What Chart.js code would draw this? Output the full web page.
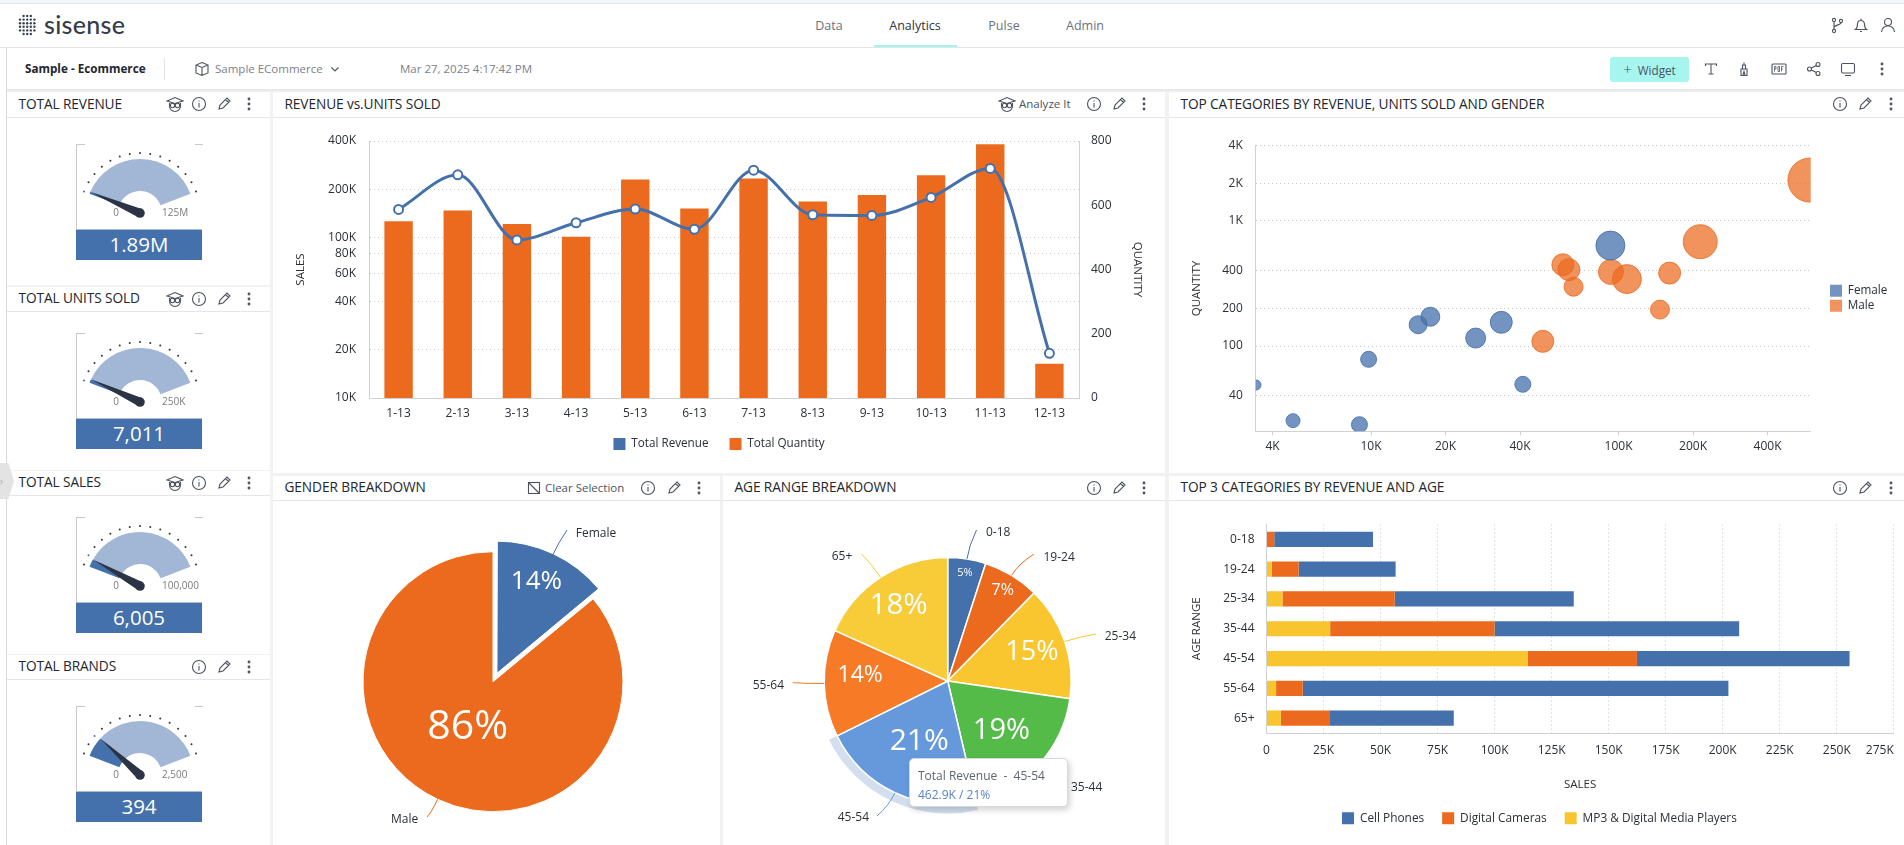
<!DOCTYPE html>
<html>
<head>
<meta charset="utf-8">
<title>Sample - Ecommerce</title>
<script src="https://cdn.jsdelivr.net/npm/chart.js@4/dist/chart.umd.js"></script>
<style>
html, body { margin: 0; height: 100%; overflow: hidden; background: #f2f2f2; font-family: "Open Sans", sans-serif; color: #22262e; }
#page { position: absolute; left: 0; top: 0; width: 1904px; height: 845px; overflow: hidden; }
.abs { position: absolute; white-space: nowrap; }
.panel { position: absolute; background: #fff; overflow: hidden; }
.panel canvas { position: absolute; }
.head { position: absolute; left: 0; right: 0; top: 0; border-bottom: 1px solid #e6e6e6; background: #fff; }
.title { position: absolute; left: 11.5px; font-size: 13.7px; color: #22262e; white-space: nowrap; transform: translateY(-50%); letter-spacing: -.1px; }
.ico { position: absolute; width: 18px; height: 18px; fill: none; stroke: #4c5360; stroke-width: 1.1; transform: translate(-50%, -50%); }
.small { font-size: 11.5px; color: #4c5360; }
.nav { font-size: 12.5px; color: #6a717d; transform: translate(-50%, -50%); }
.gaugeBox { position: absolute; width: 127px; border-left: 1px solid #c8c8c8; box-sizing: border-box; }
.gaugeBox:before, .gaugeBox:after { content: ""; position: absolute; top: 0; width: 8px; height: 1px; background: #c8c8c8; }
.gaugeBox:before { left: 0; } .gaugeBox:after { right: 0; }
.gaugeValue { position: absolute; width: 126px; height: 31px; background: #4470ab; border-top: 1px solid #a9bcd8; box-sizing: border-box; color: #fff; font-size: 20.5px; line-height: 29px; text-align: center; }
#tip { position: absolute; left: 909px; top: 758px; width: 159px; height: 49px; box-sizing: border-box; background: #fff; border: 1px solid #d5d8dd; border-radius: 5px; box-shadow: 2px 3px 6px rgba(0,0,0,.18); padding: 7px 8px; font-size: 12px; line-height: 19px; color: #5d6470; white-space: pre; }
#tip b { font-weight: 400; color: #5a83c8; display: block; }
</style>
</head>
<body>
<div id="page"></div>
<div id="tip" style="display:none"></div>
<script>
console.log("Script loaded!");

// Values
const months = ["1-13", "2-13", "3-13", "4-13", "5-13", "6-13", "7-13", "8-13", "9-13", "10-13", "11-13", "12-13"];
const totalRevenue = [149800, 246000, 96700, 123700, 150500, 112700, 263000, 138800, 137400, 178000, 270000, 19000];
const totalQuantity = [550, 584, 542, 502, 680, 590, 683, 612, 632, 693, 790, 107];
const revenueTicks = [10000, 20000, 40000, 60000, 80000, 100000, 200000, 400000];
const quantityTicks = [0, 200, 400, 600, 800];

const femaleRevenue = [3430, 4840, 8980, 9780, 15500, 17360, 26470, 33590, 41040, 92700];
const femaleUnits = [48.8, 25.3, 23.5, 78.3, 148, 171.5, 115.8, 154.7, 49.4, 636];
const femaleBubble = [5, 7, 8, 8, 9, 9.5, 10, 11, 8, 14.5];
const maleRevenue = [49440, 59560, 63000, 65800, 93170, 108100, 147000, 160800, 213800, 593000];
const maleUnits = [109, 447, 408, 298, 391, 343, 195.6, 383, 683, 2124];
const maleBubble = [11, 11, 11, 9.5, 12.5, 14.5, 9.5, 11, 17, 22];
const scatterXTicks = [4000, 10000, 20000, 40000, 100000, 200000, 400000];
const scatterYTicks = [40, 100, 200, 400, 1000, 2000, 4000];

const genderLabels = ["Female", "Male"];
const genderValues = [14, 86];

const ageLabels = ["0-18", "19-24", "25-34", "35-44", "45-54", "55-64", "65+"];
const ageValues = [108, 160, 324, 413, 462.9, 304, 397];

const cellPhones = [43.3, 42.5, 78.5, 107.2, 93.2, 186.6, 54.6];
const digitalCameras = [3.4, 11.8, 49.2, 72.1, 47.8, 11.7, 21.2];
const mediaPlayers = [0, 2.3, 7.0, 27.9, 114.6, 4.2, 6.3];
const salesTicks = [0, 25, 50, 75, 100, 125, 150, 175, 200, 225, 250, 275];

const gaugeTitles = ["TOTAL REVENUE", "TOTAL UNITS SOLD", "TOTAL SALES", "TOTAL BRANDS"];
const gaugeValues = [1890000, 7011, 6005, 394];
const gaugeMax = [125000000, 250000, 100000, 2500];
const gaugeValueText = ["1.89M", "7,011", "6,005", "394"];
const gaugeMaxText = ["125M", "250K", "100,000", "2,500"];

const BLUE = "#4470ab", ORANGE = "#ec6a1e", YELLOW = "#f8c52e";
const GRID = "rgba(0,0,0,.22)", AXIS = "#cfd1d4", TEXT = "#2b2f36";
Chart.defaults.font.family = '"Open Sans", sans-serif';
Chart.defaults.font.size = 12;
Chart.defaults.color = TEXT;
Chart.defaults.animation = false;
Chart.defaults.events = [];
Chart.defaults.plugins.tooltip.enabled = false;

function fmtK(v) { return v >= 1000 ? (v / 1000) + "K" : String(v); }
function fixedTicks(list) { return function(scale) { scale.ticks = list.map(function(v) { return { value: v }; }); }; }
function noStroke(chart) {
    return Chart.defaults.plugins.legend.labels.generateLabels(chart).map(function(i) { i.lineWidth = 0; return i; });
}

// Page furniture
const page = document.getElementById("page");
function el(cls, style, html, parent) {
    const d = document.createElement("div");
    d.className = cls;
    d.style.cssText = style;
    if (html) d.innerHTML = html;
    (parent || page).appendChild(d);
    return d;
}
const ICONS = {
    info: '<circle cx="9" cy="9" r="6.5"/><path d="M9 8v4.5M9 5.5v1"/>',
    pencil: '<path d="M4 14l1-4 7-7 3 3-7 7-4 1zM10.5 4.5l3 3"/>',
    dots: '<circle cx="9" cy="4" r=".9" fill="#4c5360"/><circle cx="9" cy="9" r=".9" fill="#4c5360"/><circle cx="9" cy="14" r=".9" fill="#4c5360"/>',
    owl: '<path d="M1 6l8-3.500 8 3.500-8 2.500zM3.500 8v3a5.500 5.500 0 0 0 11 0V8"/><circle cx="6.500" cy="10.500" r="2.200"/><circle cx="11.500" cy="10.500" r="2.200"/>',
    branch: '<circle cx="6" cy="4" r="1.6"/><circle cx="6" cy="15" r="1.6"/><circle cx="13" cy="5" r="1.6"/><path d="M6 5.6v7.8M13 6.6c0 3-7 2-7 5"/>',
    bell: '<path d="M3.5 13.5h11c-1.5-1-2-2.5-2-5.5a3.5 3.5 0 0 0-7 0c0 3-.5 4.500-2 5.500zM8 15.500h2M9 2.500v2"/>',
    user: '<circle cx="9" cy="6" r="3.500"/><path d="M2.500 16c.5-4 3-6 6.500-6s6 2 6.500 6"/>',
    cube: '<path d="M9 2.500l6 2.500v8l-6 2.500-6-2.500v-8zM3 5l6 2.500 6-2.500M9 7.500v8"/>',
    chevron: '<path d="M5.500 7.500l3.500 3.500 3.500-3.500"/>',
    text: '<path d="M3.500 6V4h11v2M9 4v10M6.500 14h5"/>',
    brush: '<path d="M6 9h6v6.500H6zM7.500 9V5h3v4M9 2.500V5M8 15l1-3.500 1 3.500"/>',
    pdf: '<rect x="2" y="4" width="14" height="10" rx="1"/><path d="M4.500 11.500v-5h1.500v2.500h-1.500M8 6.500v5h1.500V6.500zM11.500 11.500v-5h2M11.500 9h1.500" stroke-width=".8"/>',
    share: '<circle cx="4.500" cy="9" r="2"/><circle cx="13" cy="4.500" r="2"/><circle cx="13" cy="13.500" r="2"/><path d="M6.300 8l5-2.600M6.300 10l5 2.600"/>',
    screen: '<rect x="2.500" y="3.500" width="13" height="9.500" rx="1.500"/><path d="M6 15.500h6"/>',
    clear: '<rect x="3.500" y="3.500" width="11" height="11"/><path d="M3.500 3.500l11 11"/>'
};
function icon(name, x, y, parent) {
    el("", "", '<svg class="ico" viewBox="0 0 18 18" style="left:' + x + 'px;top:' + y + 'px">' + ICONS[name] + "</svg>", parent);
}

// Top bars
el("abs", "left:0;top:0;width:1904px;height:48px;background:#fff;border-bottom:1px solid #e6e8ea;box-sizing:border-box");
el("abs", "left:0;top:0;width:1904px;height:4px;background:#f3f7f9;border-bottom:1px solid #dfe6ea;box-sizing:border-box");
el("abs", "left:0;top:48px;width:1904px;height:41px;background:#fff;box-shadow:0 1px 3px rgba(0,0,0,.08)");
el("abs", "left:0;top:48px;width:6px;height:797px;background:#fff;border-right:1px solid #d9d9d9");
const logo = [];
for (let r = 0; r < 6; r++) for (let c = 0; c < 5; c++) {
    if ((r === 0 || r === 5) && (c === 0 || c === 4)) continue;
    logo.push('<circle cx="' + (2 + c * 3.6) + '" cy="' + (2 + r * 3.6) + '" r="1.200" fill="#3a4150"/>');
}
el("abs", "left:18px;top:14px", '<svg width="18" height="22">' + logo.join("") + "</svg>");
el("abs", "left:44px;top:9px;font:500 25px Lato,sans-serif;color:#353c4a;line-height:30px;letter-spacing:.3px", "sisense");
[["Data", 829], ["Analytics", 915], ["Pulse", 1004], ["Admin", 1085]].forEach(function(n) {
    el("abs nav", "left:" + n[1] + "px;top:25px;" + (n[0] === "Analytics" ? "color:#2f3540" : ""), n[0]);
});
el("abs", "left:874px;top:45px;width:83px;height:2px;background:#a5f3ee");
icon("branch", 1837, 25); icon("bell", 1861, 25); icon("user", 1888, 25);
el("abs", "left:25px;top:60px;font-size:11.7px;font-weight:700;color:#22262e;line-height:16px", "Sample - Ecommerce");
el("abs", "left:164px;top:58px;width:1px;height:22px;background:#e4e4e4");
icon("cube", 202, 69);
el("abs", "left:215px;top:60px;font-size:11.5px;color:#7b818b;line-height:18px", "Sample ECommerce");
icon("chevron", 335, 69);
el("abs", "left:400px;top:60px;font-size:11.5px;color:#7b818b;line-height:18px", "Mar 27, 2025 4:17:42 PM");
el("abs", "left:1610px;top:57px;width:79px;height:25px;background:#a6f5ef;border-radius:3px;font-size:11.7px;color:#4c5360;line-height:25px;text-align:center", "<span style='font-size:15px;font-weight:300'>+</span>&nbsp; Widget");
icon("text", 1711, 69); icon("brush", 1744, 69); icon("pdf", 1779, 69); icon("share", 1814, 69); icon("screen", 1848, 69); icon("dots", 1882, 69);
el("abs", "left:0;top:463px;width:14px;height:36px;background:#e3e3e3;clip-path:polygon(0 0,60% 0,100% 50%,60% 100%,0 100%);color:#aaa;font-size:10px;line-height:36px;z-index:3", "&rsaquo;");

function panel(x, y, w, h, headH, title) {
    const p = el("panel", "left:" + x + "px;top:" + y + "px;width:" + w + "px;height:" + h + "px");
    el("head", "height:" + (headH - 1) + "px", "", p);
    el("title", "top:" + (headH / 2 - 2.5) + "px", title, p);
    return p;
}
function addCanvas(p, x, y, w, h) {
    const c = document.createElement("canvas");
    c.style.cssText = "left:0;top:0;width:" + w + "px;height:" + h + "px";
    c.width = w; c.height = h;
    const holder = document.createElement("div");
    holder.style.cssText = "position:absolute;left:" + x + "px;top:" + y + "px;width:" + w + "px;height:" + h + "px";
    holder.appendChild(c);
    p.appendChild(holder);
    return c.getContext("2d");
}

// Gauges
const gaugeTop = [144, 333, 517, 706];
const gaugePanels = [[92, 193, 26], [287, 183, 25], [471, 183, 25], [655, 190, 25]];
const gaugePlugin = {
    id: "gaugeExtras",
    afterDatasetsDraw(chart, args, opts) {
        const ctx = chart.ctx;
        const arc = chart.getDatasetMeta(0).data[0];
        const cx = arc.x, cy = arc.y;
        const start = arc.startAngle, full = chart.getDatasetMeta(0).data[1].endAngle - start;
        const frac = gaugeValues[opts.i] / gaugeMax[opts.i];
        // tick dots
        for (let k = 0; k <= 14; k++) {
            const a = start + full * k / 14;
            ctx.beginPath();
            ctx.arc(cx + Math.cos(a) * 60, cy + Math.sin(a) * 60, 1, 0, 7);
            ctx.fillStyle = k === Math.round(frac * 14) ? BLUE : "#333";
            ctx.fill();
        }
        // needle
        const a = arc.endAngle, nx = -Math.sin(a), ny = Math.cos(a);
        ctx.beginPath();
        ctx.moveTo(cx + Math.cos(a) * 54, cy + Math.sin(a) * 54);
        ctx.lineTo(cx + nx * 4.5, cy + ny * 4.5);
        ctx.lineTo(cx - nx * 4.5, cy - ny * 4.5);
        ctx.closePath();
        ctx.fillStyle = "#2c3345";
        ctx.fill();
        ctx.beginPath();
        ctx.arc(cx, cy, 4.8, 0, 7);
        ctx.fill();
        // min and max
        ctx.font = '10px "Open Sans"';
        ctx.fillStyle = "#7b7b7b";
        ctx.textBaseline = "middle";
        ctx.textAlign = "center";
        ctx.fillText("0", cx - 24, cy);
        ctx.textAlign = "left";
        ctx.fillText(gaugeMaxText[opts.i], cx + 22, cy);
    }
};
gaugeTitles.forEach(function(t, i) {
    const g = gaugePanels[i];
    const p = panel(7, g[0], 263, g[1], g[2], t);
    if (i !== 3) icon("owl", 168, g[2] / 2 - 1, p);
    icon("info", 192, g[2] / 2 - 1, p);
    icon("pencil", 217, g[2] / 2 - 1, p);
    icon("dots", 242, g[2] / 2 - 1, p);
    el("gaugeBox", "left:76px;top:" + gaugeTop[i] + "px;height:85px");
    el("gaugeValue", "left:76px;top:" + (gaugeTop[i] + 85) + "px;z-index:2", gaugeValueText[i]);
    const ctx = addCanvas(page, 77, gaugeTop[i], 126, 85);
    ctx.canvas.parentNode.style.zIndex = 1;
    new Chart(ctx, {
        type: "doughnut",
        data: {
            labels: ["Value", "Rest"],
            datasets: [{
                data: [gaugeValues[i], gaugeMax[i] - gaugeValues[i]],
                backgroundColor: [BLUE, "#a2b7d5"],
                borderWidth: 0,
                radius: 54,
                cutout: "40.7%"
            }]
        },
        options: {
            responsive: false,
            rotation: -69,
            circumference: 138,
            layout: { padding: { bottom: 8.8 } },
            plugins: { legend: { display: false }, gaugeExtras: { i: i } }
        },
        plugins: [gaugePlugin]
    });
});

const pinLegend = {
    id: "pinLegend",
    afterLayout(chart, args, opts) {
        const l = chart.legend, dx = opts.left - l.left;
        l.left += dx; l.right += dx;
        l.top += opts.dy; l.bottom += opts.dy;
    }
};

// Revenue vs units sold
const revPanel = panel(273, 92, 892, 381, 26, "REVENUE vs.UNITS SOLD");
icon("owl", 734, 12, revPanel);
el("abs small", "left:746px;top:4px;line-height:16px", "Analyze It", revPanel);
icon("info", 821, 12, revPanel); icon("pencil", 846, 12, revPanel); icon("dots", 871, 12, revPanel);
new Chart(addCanvas(revPanel, 0, 27, 892, 354), {
    type: "bar",
    data: {
        labels: months,
        datasets: [
            {
                type: "line", label: "Total Revenue", data: totalRevenue, yAxisID: "y",
                borderColor: BLUE, backgroundColor: BLUE, borderWidth: 3, cubicInterpolationMode: "monotone",
                pointRadius: 4.5, pointBorderWidth: 2, pointBackgroundColor: "#fff", pointBorderColor: BLUE, order: 0
            },
            {
                label: "Total Quantity", data: totalQuantity, yAxisID: "y1",
                backgroundColor: ORANGE, categoryPercentage: 1, barPercentage: 0.48, order: 1
            }
        ]
    },
    options: {
        responsive: false,
        layout: { padding: { top: 22, bottom: 13 } },
        scales: {
            x: {
                grid: { display: false, drawTicks: false },
                border: { color: AXIS },
                ticks: { padding: 8, maxRotation: 0, autoSkip: false },
                afterFit(s) { s.height = 19; s.paddingLeft = 0; s.paddingRight = 0; }
            },
            y: {
                type: "logarithmic", position: "left", min: 10000, max: 400000,
                afterBuildTicks: fixedTicks(revenueTicks),
                ticks: { callback: fmtK, padding: 13, autoSkip: false },
                grid: { color: GRID, drawTicks: false },
                border: { color: AXIS, dash: [1, 3] },
                title: { display: true, text: "SALES", font: { size: 11.5 }, padding: { top: 21, bottom: 21 } },
                afterFit(s) { s.width = 96; s.paddingTop = 0; s.paddingBottom = 0; }
            },
            y1: {
                type: "linear", position: "right", min: 0, max: 800,
                afterBuildTicks: fixedTicks(quantityTicks),
                ticks: { padding: 12 },
                grid: { display: false, drawTicks: false },
                border: { color: AXIS },
                title: { display: true, text: "QUANTITY", font: { size: 11.5 }, padding: { top: 21, bottom: 21 } },
                afterFit(s) { s.width = 86; s.paddingTop = 0; s.paddingBottom = 0; }
            }
        },
        plugins: {
            legend: { position: "bottom", labels: { boxWidth: 12, boxHeight: 12, padding: 21, font: { size: 11.7 }, generateLabels: noStroke } }
        }
    }
});

// Top categories scatter
const catPanel = panel(1169, 92, 735, 381, 26, "TOP CATEGORIES BY REVENUE, UNITS SOLD AND GENDER");
icon("info", 671, 12, catPanel); icon("pencil", 696, 12, catPanel); icon("dots", 722, 12, catPanel);
function bubbles(xs, ys, rs) { return xs.map(function(x, i) { return { x: x, y: ys[i], r: rs[i] }; }); }
new Chart(addCanvas(catPanel, 0, 27, 735, 354), {
    type: "bubble",
    data: {
        datasets: [
            { label: "Female", data: bubbles(femaleRevenue, femaleUnits, femaleBubble), backgroundColor: "rgba(68,112,171,.75)", borderColor: "rgba(68,112,171,.85)", borderWidth: 1, clip: 0 },
            { label: "Male", data: bubbles(maleRevenue, maleUnits, maleBubble), backgroundColor: "rgba(236,106,30,.72)", borderColor: "rgba(236,106,30,.8)", borderWidth: 1, clip: 0 }
        ]
    },
    options: {
        responsive: false,
        layout: { padding: { top: 26.7, right: 23 } },
        scales: {
            x: {
                type: "logarithmic", min: 3424, max: 597600,
                afterBuildTicks: fixedTicks(scatterXTicks),
                ticks: { callback: fmtK, padding: 4, maxRotation: 0, autoSkip: false },
                grid: { drawOnChartArea: false, tickLength: 4, color: AXIS },
                border: { color: AXIS },
                afterFit(s) { s.height = 41.7; s.paddingLeft = 0; s.paddingRight = 0; }
            },
            y: {
                type: "logarithmic", min: 20.8, max: 4000,
                afterBuildTicks: fixedTicks(scatterYTicks),
                ticks: { callback: fmtK, padding: 13, autoSkip: false },
                grid: { color: GRID, drawTicks: false },
                border: { color: AXIS, dash: [1, 3] },
                title: { display: true, text: "QUANTITY", font: { size: 11.5 }, padding: { top: 20.5, bottom: 0 } },
                afterFit(s) { s.width = 86.8; s.paddingTop = 0; s.paddingBottom = 0; }
            }
        },
        plugins: {
            legend: { position: "right", labels: { boxWidth: 12, boxHeight: 12, padding: 3, font: { size: 11.7 }, generateLabels: noStroke } },
            pinLegend: { left: 658, dy: -11 }
        }
    },
    plugins: [pinLegend]
});

// Slice labels and connectors for the two pies
const pieLabels = {
    id: "pieLabels",
    afterDatasetsDraw(chart, args, opts) {
        const ctx = chart.ctx, meta = chart.getDatasetMeta(0), values = chart.data.datasets[0].data;
        const total = values.reduce(function(a, b) { return a + b; }, 0);
        meta.data.forEach(function(arc, i) {
            const mid = (arc.startAngle + arc.endAngle) / 2;
            const off = (arc.options.offset || 0) / 4;
            const cx = arc.x + Math.cos(mid) * off, cy = arc.y + Math.sin(mid) * off;
            const r = arc.outerRadius;
            // connector
            const c = opts.callouts[i];
            const sx = cx + Math.cos(mid) * r, sy = cy + Math.sin(mid) * r;
            ctx.beginPath();
            ctx.moveTo(sx, sy);
            ctx.quadraticCurveTo(sx + Math.cos(mid) * 14, sy + Math.sin(mid) * 14, c.ex, c.ey);
            ctx.strokeStyle = arc.options.backgroundColor;
            ctx.lineWidth = 1;
            ctx.stroke();
            ctx.font = '12px "Open Sans"';
            ctx.fillStyle = TEXT;
            ctx.textAlign = "left";
            ctx.textBaseline = "middle";
            ctx.fillText(chart.data.labels[i], c.tx, c.ty);
            // percent inside the slice
            const a = mid + (opts.turn ? opts.turn[i] : 0) * Math.PI / 180;
            ctx.font = opts.sizes[i] + 'px "Open Sans"';
            ctx.fillStyle = "#fff";
            ctx.textAlign = "center";
            ctx.fillText(Math.round(values[i] / total * 100) + "%", cx + Math.cos(a) * r * opts.dist[i], cy + Math.sin(a) * r * opts.dist[i]);
        });
    }
};

// Gender breakdown
const genPanel = panel(273, 476, 447, 369, 25, "GENDER BREAKDOWN");
icon("clear", 261, 12, genPanel);
el("abs small", "left:272px;top:4px;line-height:16px", "Clear Selection", genPanel);
icon("info", 375, 12, genPanel); icon("pencil", 401, 12, genPanel); icon("dots", 426, 12, genPanel);
// panel origin is (273,476), canvas starts at y 500
new Chart(addCanvas(genPanel, 0, 24, 447, 345), {
    type: "pie",
    data: {
        labels: genderLabels,
        datasets: [{ data: genderValues, backgroundColor: [BLUE, ORANGE], borderColor: "#fff", borderWidth: 1, offset: [37.2, 0], radius: 130 }]
    },
    options: {
        responsive: false,
        layout: { padding: { top: 18.4, right: 7 } },
        plugins: {
            legend: { display: false },
            pieLabels: {
                sizes: [26, 41],
                dist: [0.77, 0.40],
                turn: [-2, 4],
                callouts: [{ ex: 294, ey: 30, tx: 302.7, ty: 34 }, { ex: 154, ey: 317, tx: 118, ty: 320 }]
            }
        }
    },
    plugins: [pieLabels]
});

// Age range breakdown
const agePanel = panel(723, 476, 442, 369, 25, "AGE RANGE BREAKDOWN");
icon("info", 371, 12, agePanel); icon("pencil", 396, 12, agePanel); icon("dots", 421, 12, agePanel);
const ageHalo = {
    id: "ageHalo",
    beforeDatasetsDraw(chart) {
        const a = chart.getDatasetMeta(0).data[4], ctx = chart.ctx;
        ctx.beginPath();
        ctx.moveTo(a.x, a.y);
        ctx.arc(a.x, a.y, a.outerRadius + 9, a.startAngle, a.endAngle);
        ctx.closePath();
        ctx.fillStyle = "#d3deef";
        ctx.fill();
    }
};
new Chart(addCanvas(agePanel, 0, 24, 442, 345), {
    type: "pie",
    data: {
        labels: ageLabels,
        datasets: [{
            data: ageValues,
            backgroundColor: [BLUE, ORANGE, "#f9c62f", "#54bb49", "#6699dc", "#f77a26", "#f8cb38"],
            borderColor: "#fff", borderWidth: 1.5, radius: 123.5
        }]
    },
    options: {
        responsive: false,
        layout: { padding: { top: 17, left: 7.4 } },
        plugins: {
            legend: { display: false },
            pieLabels: {
                sizes: [11, 16, 27, 29, 30, 23, 29.5],
                dist: [0.89, 0.86, 0.72, 0.59, 0.54, 0.71, 0.73],
                turn: [0, 0, 0, 0, 0, 5, 0],
                callouts: [
                    { ex: 253.5, ey: 30, tx: 263, ty: 33 },
                    { ex: 311, ey: 54, tx: 320.5, ty: 57.7 },
                    { ex: 373, ey: 134, tx: 381.7, ty: 137 },
                    { ex: 340, ey: 282, tx: 348, ty: 288 },
                    { ex: 154, ey: 316, tx: 114.7, ty: 318 },
                    { ex: 69.7, ey: 182.7, tx: 29.7, ty: 186 },
                    { ex: 138.7, ey: 54, tx: 108.7, ty: 57 }
                ]
            }
        }
    },
    plugins: [ageHalo, pieLabels]
});
const tip = document.getElementById("tip");
tip.style.display = "block";
tip.style.zIndex = 5;
tip.innerHTML = "Total Revenue  -  " + ageLabels[4] + "<b>" + ageValues[4].toFixed(1) + "K / " + Math.round(ageValues[4] / ageValues.reduce(function(a, b) { return a + b; }, 0) * 100) + "%</b>";
page.appendChild(tip);

// Top 3 categories by revenue and age
const topPanel = panel(1169, 476, 735, 369, 25, "TOP 3 CATEGORIES BY REVENUE AND AGE");
icon("info", 671, 12, topPanel); icon("pencil", 696, 12, topPanel); icon("dots", 722, 12, topPanel);
const lastTickRight = {
    id: "lastTickRight",
    beforeDraw(chart) {
        const items = chart.scales.x.getLabelItems();
        items[items.length - 1].options.textAlign = "right";
    }
};
new Chart(addCanvas(topPanel, 0, 25, 735, 344), {
    type: "bar",
    data: {
        labels: ageLabels,
        datasets: [
            { label: "MP3 & Digital Media Players", data: mediaPlayers, backgroundColor: YELLOW, categoryPercentage: 1, barPercentage: 0.51 },
            { label: "Digital Cameras", data: digitalCameras, backgroundColor: ORANGE, categoryPercentage: 1, barPercentage: 0.51 },
            { label: "Cell Phones", data: cellPhones, backgroundColor: BLUE, categoryPercentage: 1, barPercentage: 0.51 }
        ]
    },
    options: {
        responsive: false,
        indexAxis: "y",
        layout: { padding: { top: 23.5, right: 10.2, bottom: 12 } },
        scales: {
            x: {
                stacked: true, min: 0, max: 275,
                afterBuildTicks: fixedTicks(salesTicks),
                ticks: { callback: function(v) { return v === 0 ? "0" : v + "K"; }, padding: 10, maxRotation: 0, autoSkip: false },
                grid: { color: GRID, drawTicks: false },
                border: { color: AXIS, dash: [1, 3] },
                title: { display: true, text: "SALES", font: { size: 11.5 }, padding: { top: 14, bottom: 1 } },
                afterFit(s) { s.height = 60; s.paddingLeft = 0; s.paddingRight = 0; }
            },
            y: {
                stacked: true,
                ticks: { padding: 12, autoSkip: false },
                grid: { display: false, drawTicks: false },
                border: { color: AXIS },
                title: { display: true, text: "AGE RANGE", font: { size: 11.5 }, padding: { top: 20.5, bottom: 0 } },
                afterFit(s) { s.width = 97.5; s.paddingTop = 0; s.paddingBottom = 0; }
            }
        },
        plugins: {
            legend: { position: "bottom", reverse: true, labels: { boxWidth: 12, boxHeight: 12, padding: 18, font: { size: 11.85 } } },
            pinLegend: { left: 8, dy: 1.2 }
        }
    },
    plugins: [lastTickRight, pinLegend]
});
</script>
</body>
</html>
